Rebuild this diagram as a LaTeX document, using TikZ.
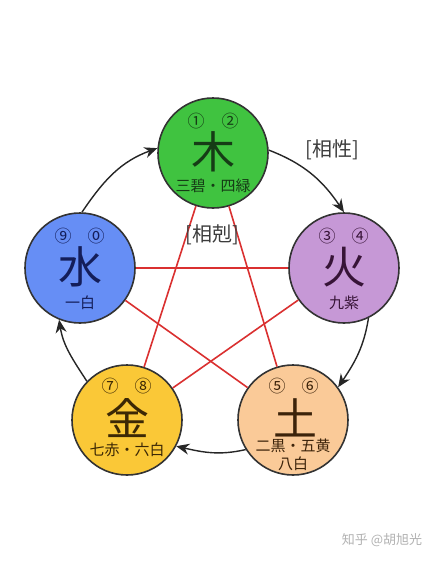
\documentclass[tikz,border=0pt]{standalone}
\usepackage{fontspec}
\newfontfamily\cjk{Noto Sans CJK JP}
\usetikzlibrary{arrows.meta}
\definecolor{mufill}{RGB}{64,195,64}
\definecolor{shuifill}{RGB}{102,142,245}
\definecolor{huofill}{RGB}{198,152,214}
\definecolor{jinfill}{RGB}{250,200,55}
\definecolor{tufill}{RGB}{250,202,152}
\definecolor{mutext}{RGB}{22,60,22}
\definecolor{shuitext}{RGB}{20,30,90}
\definecolor{huotext}{RGB}{55,20,55}
\definecolor{jintext}{RGB}{60,40,5}
\definecolor{tutext}{RGB}{60,35,10}
\definecolor{kered}{RGB}{218,48,48}
\definecolor{labgray}{RGB}{60,60,60}
\begin{document}
\begin{tikzpicture}[x=1pt,y=1pt,
  elem/.style={circle, draw=black!80, line width=1.6pt, minimum size=110pt, inner sep=0pt},
  bigch/.style={font=\cjk\fontsize{44}{44}\selectfont, inner sep=0pt},
  subt/.style={font=\cjk\fontsize{15}{15}\selectfont, inner sep=0pt},
  num/.style={font=\cjk\fontsize{17}{17}\selectfont, inner sep=0pt},
  ke/.style={draw=kered, line width=1.6pt},
  sheng/.style={draw=black!85, line width=1.4pt, -{Stealth[length=13pt,width=11pt]}},
  lab/.style={font=\cjk\fontsize{20}{20}\selectfont, text=labgray, inner sep=0pt}]
\useasboundingbox (0,0) rectangle (435,-582);
\fill[white] (0,0) rectangle (435,-582);
% element circles
\node[elem, fill=mufill] (mu) at (213,-153) {};
\node[elem, fill=huofill] (huo) at (344,-268) {};
\node[elem, fill=tufill] (tu) at (293,-420) {};
\node[elem, fill=jinfill] (jin) at (127,-420) {};
\node[elem, fill=shuifill] (shui) at (80,-268) {};
% ke (red star)
\draw[ke] (mu) -- (jin);
\draw[ke] (mu) -- (tu);
\draw[ke] (shui) -- (huo);
\draw[ke] (shui) -- (tu);
\draw[ke] (huo) -- (jin);
% sheng (arrows)
\draw[sheng] (shui.88) to[out=56,in=200] (mu.175);
\draw[sheng] (mu.3) to[out=-21,in=124] (huo.90);
\draw[sheng] (huo.-64) to[out=-99,in=56] (tu.36);
\draw[sheng] (tu.212) to[out=193,in=-13] (jin.-28);
\draw[sheng] (jin.136) to[out=123,in=-81] (shui.248);
% texts: mu
\node[num, text=mutext] (mu1) at (196,-121) {①};
\node[num, text=mutext] (mu2) at (230,-121) {②};
\node[bigch, text=mutext] (muc) at (213,-152) {木};
\node[subt, text=mutext] (mus) at (213,-186) {三碧・四緑};
% huo
\node[num, text=huotext] (huo1) at (327,-236) {③};
\node[num, text=huotext] (huo2) at (360,-236) {④};
\node[bigch, text=huotext] (huoc) at (344,-267) {火};
\node[subt, text=huotext] (huos) at (344,-303) {九紫};
% tu
\node[num, text=tutext] (tu1) at (277,-386) {⑤};
\node[num, text=tutext] (tu2) at (310,-386) {⑥};
\node[bigch, text=tutext] (tuc) at (295,-418) {土};
\node[subt, text=tutext] (tus) at (293,-446) {二黒・五黄};
\node[subt, text=tutext] (tus2) at (293,-464) {八白};
% jin
\node[num, text=jintext] (jin1) at (110,-386) {⑦};
\node[num, text=jintext] (jin2) at (143,-386) {⑧};
\node[bigch, text=jintext] (jinc) at (127,-418) {金};
\node[subt, text=jintext] (jins) at (127,-450) {七赤・六白};
% shui
\node[num, text=shuitext] (shui1) at (63,-236) {⑨};
\node[num, text=shuitext] (shui2) at (96,-236) {⓪};
\node[bigch, text=shuitext] (shuic) at (80,-267) {水};
\node[subt, text=shuitext] (shuis) at (80,-303) {一白};
% labels
\node[lab] (xs) at (332,-150) {[相性]};
\node[lab] (xk) at (212,-235) {[相剋]};
% watermark
\node[font=\cjk\fontsize{13}{13}\selectfont, text=black!30, inner sep=0pt] (wm) at (382,-540) {知乎 @胡旭光};
\end{tikzpicture}
\end{document}
